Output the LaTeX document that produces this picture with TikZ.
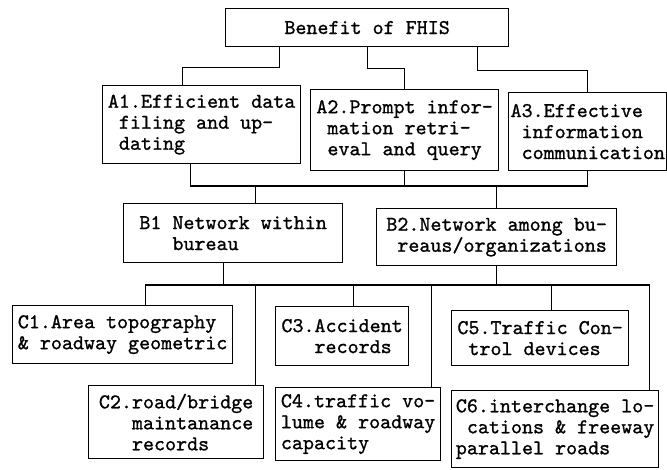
\documentclass[tikz,border=0pt]{standalone}
\usepackage{fontspec}
\newfontfamily\chartfont{lmmono10-regular}[Extension=.otf,FakeBold=1]
\usepackage{tikz}
\usetikzlibrary{positioning}

\begin{document}
\begin{tikzpicture}[
  x=1pt,y=-1pt,
  bx/.style={draw,line width=1.2pt,anchor=north west,align=left,inner sep=2pt,
             font={\chartfont\fontsize{21pt}{21pt}\selectfont}},
  ln/.style={line width=1.2pt}
]
  \useasboundingbox (0,0) rectangle (667,470);
  \coordinate (abar) at (0,186);
  \coordinate (cbar) at (0,285);

  \node[bx,minimum width=283pt,minimum height=38pt,align=center] (top) at (225,8) {Benefit of FHIS};

  \node[bx,minimum width=198pt,minimum height=78pt] (a1) at (102,85)  {A1.Efficient data\\~filing and up-\\~dating};
  \node[bx,minimum width=188pt,minimum height=81pt] (a2) at (310,89)  {A2.Prompt infor-\\~mation retri-\\~eval and query};
  \node[bx,minimum width=158pt,minimum height=78pt] (a3) at (508,92)  {A3.Effective\\~information\\~communication};

  \node[bx,minimum width=219pt,minimum height=59pt] (b1) at (123,203) {B1 Network within\\~~~bureau};
  \node[bx,minimum width=240pt,minimum height=57pt] (b2) at (376,208) {B2.Network among bu-\\~reaus/organizations};

  \node[bx,minimum width=220pt,minimum height=58pt] (c1) at (12,305)  {C1.Area topography\\\& roadway geometric};
  \node[bx,minimum width=175pt,minimum height=73pt] (c2) at (88,385)  {C2.road/bridge\\~~~maintanance\\~~~records};
  \node[bx,minimum width=133pt,minimum height=59pt] (c3) at (275,306) {C3.Accident\\~~~records};
  \node[bx,minimum width=165pt,minimum height=73pt] (c4) at (275,387) {C4.traffic vo-\\lume \& roadway\\capacity};
  \node[bx,minimum width=177pt,minimum height=55pt] (c5) at (451,310) {C5.Traffic Con-\\~trol devices};
  \node[bx,minimum width=207pt,minimum height=77pt] (c6) at (451,390) {C6.interchange lo-\\~cations \& freeway\\parallel roads};

  % top -> A
  \draw[ln] ([xshift=-88pt]top.south) -- ++(0,20) -| ([xshift=-19pt]a1.north);
  \draw[ln] (top.south) -- ++(0,21) -| (a2.north);
  \draw[ln] ([xshift=110pt]top.south) -- ++(0,23) -| (a3.north);

  % A -> B
  \draw[ln] ([xshift=-11pt]a1.south) |- (a3.south |- abar) -- (a3.south);
  \draw[ln] (a2.south) -- (a2.south |- abar);
  \draw[ln] ([xshift=22pt]b1.north) -- ([xshift=22pt]b1.north |- abar);
  \draw[ln] (b2.north) -- (b2.north |- abar);

  % B -> C
  \draw[ln] ([xshift=-10pt]b1.south) -- ([xshift=-10pt]b1.south |- cbar);
  \draw[ln] (b2.south) -- (b2.south |- cbar);
  \draw[ln] ([xshift=23pt]c1.north) |- ([xshift=-10pt]c6.north east |- cbar) -- ([xshift=-10pt]c6.north east);
  \draw[ln] ([xshift=-9pt]c2.north east) -- ([xshift=-9pt]c2.north east |- cbar);
  \draw[ln] ([xshift=11pt]c3.north) -- ([xshift=11pt]c3.north |- cbar);
  \draw[ln] ([xshift=-10pt]c4.north east) -- ([xshift=-10pt]c4.north east |- cbar);
  \draw[ln] ([xshift=11pt]c5.north) -- ([xshift=11pt]c5.north |- cbar);
\end{tikzpicture}
\end{document}
